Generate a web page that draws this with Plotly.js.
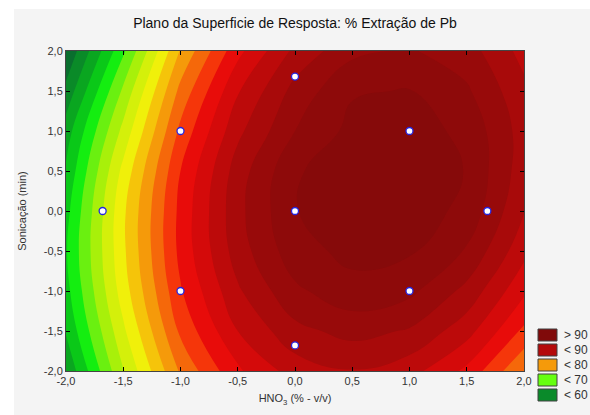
<!DOCTYPE html>
<html><head><meta charset="utf-8">
<script src="https://cdn.plot.ly/plotly-3.0.1.min.js"></script>
<style>html,body{margin:0;padding:0;background:#fff}</style>
</head><body><div id="chart" style="width:590px;height:415px"></div>
<script>
// Grid of response values (x = HNO3, y = Sonicação)
const xGrid = [-2, -1.5, -1, -0.5, 0, 0.5, 1, 1.5, 2];
const yGrid = [-2, -1.5, -1, -0.5, 0, 0.5, 1, 1.5, 2];
const zGrid = [
  [62.3, 71.9, 80.3, 85.7, 88.9, 89.9, 88.8, 85.5, 80.0],
  [64.2, 73.6, 82.4, 88.0, 91.4, 92.7, 91.8, 88.8, 83.6],
  [65.3, 75.0, 83.8, 89.7, 93.6, 95.3, 94.5, 91.4, 86.4],
  [65.8, 75.6, 84.6, 91.0, 95.2, 96.6, 96.3, 93.8, 88.6],
  [65.3, 75.6, 84.6, 91.4, 95.9, 97.4, 97.2, 95.4, 90.1],
  [64.3, 74.6, 84.0, 91.0, 95.7, 97.5, 97.5, 95.9, 90.9],
  [63.0, 72.6, 82.5, 89.5, 94.0, 96.6, 96.9, 95.5, 91.1],
  [60.6, 70.4, 80.6, 87.8, 92.7, 95.8, 96.1, 94.3, 90.5],
  [58.2, 67.6, 78.2, 85.4, 90.5, 93.5, 94.2, 92.9, 89.3]
];
// Experimental design points
const designX = [0, -1, 1, -1.68, 0, 1.68, -1, 1, 0];
const designY = [1.68, 1, 1, 0, 0, 0, -1, -1, -1.68];
// Contour levels
const levelStart = 58, levelEnd = 96, levelStep = 2;
// Band colours from lowest band (<58) to highest (>96)
const bandColors = ['#0a5c30','#0a6e2e','#0a8a28','#0aa620','#0ac818','#14ee10','#6af010',
  '#a8f00a','#d4f00a','#f0f00a','#f5c40a','#f59a0a','#f5680a','#f5360a','#e80c0a',
  '#d40a0a','#bc0a0a','#a80a0a','#980a0a','#8e0a0a','#860a0a'];
// Legend
const legendLabels = ['> 90', '< 90', '< 80', '< 70', '< 60'];
const legendColors = ['#800a0a', '#b40a0a', '#f59a0a', '#66ff10', '#0a8a2a'];
// Ticks
const tickVals = [-2, -1.5, -1, -0.5, 0, 0.5, 1, 1.5, 2];
const tickText = ['-2,0', '-1,5', '-1,0', '-0,5', '0,0', '0,5', '1,0', '1,5', '2,0'];

const colorscale = bandColors.map((c, i) => [i / (bandColors.length - 1), c]);

const font = 'Liberation Sans, Arial, sans-serif';
const traces = [
  {
    type: 'contour', x: xGrid, y: yGrid, z: zGrid,
    autocontour: false,
    contours: {start: levelStart, end: levelEnd, size: levelStep, coloring: 'fill', showlines: false},
    line: {width: 0, smoothing: 1.3},
    colorscale: colorscale, showscale: false, hoverinfo: 'skip'
  },
  {
    type: 'scatter', mode: 'markers', x: designX, y: designY,
    marker: {symbol: 'circle', size: 7, color: '#ffffff', line: {color: '#2424e0', width: 1.3}},
    showlegend: false, hoverinfo: 'skip'
  }
];

const L = 66, T = 51, W = 458, H = 320;
const px = v => (v - L) / W;
const py = v => (T + H - v) / H;
const shapes = [
  {type: 'rect', xref: 'paper', yref: 'paper', x0: px(14), x1: px(600), y0: py(9), y1: py(425),
   fillcolor: '#f4f4f4', line: {width: 0}, layer: 'below'}
];
const annotations = [];
legendLabels.forEach((lab, i) => {
  const top = 329 + i * 15;
  shapes.push({type: 'rect', xref: 'paper', yref: 'paper', x0: px(538), x1: px(557),
    y0: py(top + 12), y1: py(top), fillcolor: legendColors[i], line: {color: '#404040', width: 1}});
  annotations.push({xref: 'paper', yref: 'paper', x: px(562), y: py(top + 6), xanchor: 'left', yanchor: 'middle',
    text: lab, showarrow: false, font: {family: font, size: 12, color: '#333'}});
});

const axisCommon = {
  tickvals: tickVals, ticktext: tickText, range: [-2, 2],
  showline: true, linecolor: '#444', linewidth: 1, mirror: 'ticks',
  ticks: 'inside', ticklen: 4, tickcolor: '#000', showgrid: false, zeroline: false,
  tickfont: {family: font, size: 11, color: '#333'}
};

const layout = {
  width: 590, height: 415,
  margin: {l: L, r: 590 - L - W, t: T, b: 415 - T - H},
  paper_bgcolor: '#ffffff', plot_bgcolor: '#f4f4f4',
  title: {text: 'Plano da Superficie de Resposta: % Extração de Pb', x: 0.5, xanchor: 'center',
    yref: 'container', y: 1 - 23 / 415, yanchor: 'middle', font: {family: font, size: 14, color: '#111'}},
  xaxis: Object.assign({}, axisCommon, {title: {text: 'HNO<sub>3</sub> (% - v/v)', standoff: 8,
    font: {family: font, size: 11, color: '#333'}}}),
  yaxis: Object.assign({}, axisCommon, {title: {text: 'Sonicação (min)', standoff: 14,
    font: {family: font, size: 11, color: '#333'}}}),
  shapes: shapes, annotations: annotations, showlegend: false
};

Plotly.newPlot('chart', traces, layout, {displayModeBar: false, staticPlot: true});
</script></body></html>
